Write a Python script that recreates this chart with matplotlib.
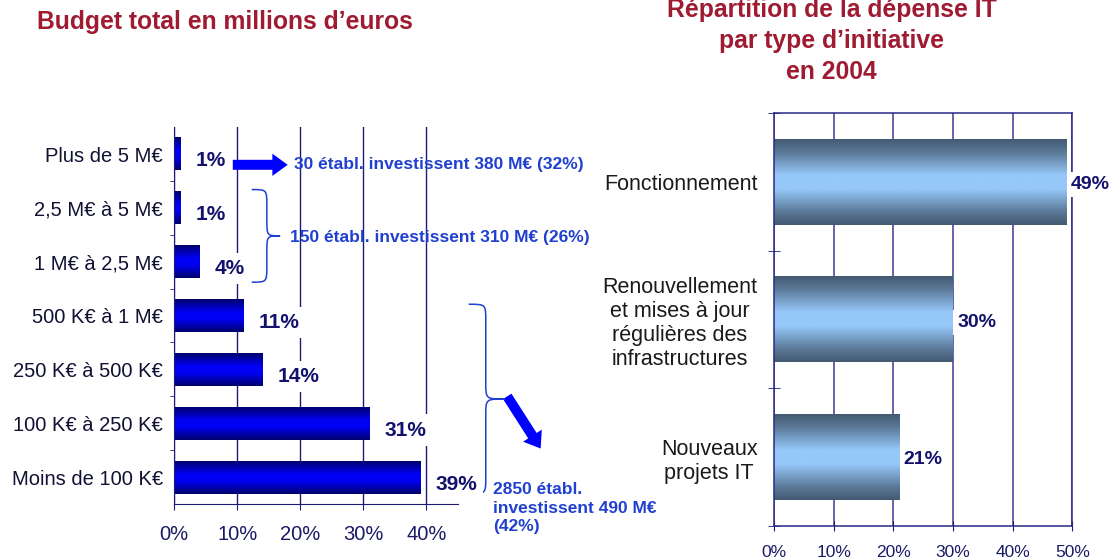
import numpy as np
import matplotlib
matplotlib.use('Agg')
import matplotlib.pyplot as plt
from matplotlib.colors import LinearSegmentedColormap
from matplotlib.path import Path
import matplotlib.patches as mpatches

plt.rcParams['font.family'] = ['Liberation Sans', 'DejaVu Sans']

# Left chart: budget total
budget_cats = ['Plus de 5 M€', '2,5 M€ à 5 M€', '1 M€ à 2,5 M€', '500 K€ à 1 M€',
               '250 K€ à 500 K€', '100 K€ à 250 K€', 'Moins de 100 K€']
budget_pct = [1, 1, 4, 11, 14, 31, 39]
budget_ticks = [0, 10, 20, 30, 40]

# Right chart: dépense IT par type d'initiative
init_cats = ['Fonctionnement',
             'Renouvellement\net mises à jour\nrégulières des\ninfrastructures',
             'Nouveaux\nprojets IT']
init_pct = [49, 30, 21]
init_ticks = [0, 10, 20, 30, 40, 50]

title_col = '#9e1b32'
navy = '#1c1c78'
label_col = '#12126e'
ann_col = '#2040d0'

blue_cmap = LinearSegmentedColormap.from_list('b', [(0, '#00006a'), (0.4, '#0000f5'),
                                                    (0.6, '#0000f5'), (1, '#00006a')])
steel_cmap = LinearSegmentedColormap.from_list('s', [(0, '#445a72'), (0.15, '#5a7896'),
                                                     (0.42, '#96c8fa'), (0.58, '#96c8fa'),
                                                     (0.85, '#5a7896'), (1, '#445a72')])


def gradient_fill(ax, bars, cmap):
    grad = np.linspace(0, 1, 256).reshape(-1, 1)
    for b in bars:
        x, y = b.get_x(), b.get_y()
        w, h = b.get_width(), b.get_height()
        ax.imshow(grad, cmap=cmap, aspect='auto', extent=(x, x + w, y + h, y),
                  zorder=2, interpolation='bilinear')


def brace(ax, x_end, x_mid, x_tip, y_top, y_bot, q):
    ym = (y_top + y_bot) / 2
    verts = [(x_end, y_top), (x_mid, y_top), (x_mid, y_top), (x_mid, y_top + q),
             (x_mid, ym - q),
             (x_mid, ym), (x_mid, ym), (x_tip, ym),
             (x_mid, ym), (x_mid, ym), (x_mid, ym + q),
             (x_mid, y_bot - q),
             (x_mid, y_bot), (x_mid, y_bot), (x_end, y_bot)]
    codes = [Path.MOVETO, Path.CURVE4, Path.CURVE4, Path.CURVE4, Path.LINETO,
             Path.CURVE4, Path.CURVE4, Path.CURVE4, Path.CURVE4, Path.CURVE4, Path.CURVE4,
             Path.LINETO, Path.CURVE4, Path.CURVE4, Path.CURVE4]
    p = mpatches.PathPatch(Path(verts, codes), fill=False, ec=ann_col, lw=1.1,
                           clip_on=False, zorder=5)
    ax.add_patch(p)


def fat_arrow(ax, start, end):
    ax.annotate('', xy=end, xytext=start, annotation_clip=False,
                arrowprops=dict(arrowstyle='simple,head_length=1.1,head_width=1.6,tail_width=0.72',
                                mutation_scale=10, fc='#0000ff', ec='none',
                                shrinkA=0, shrinkB=0))


fig = plt.figure(figsize=(11.09, 5.6), dpi=100)

# ---------------- left chart ----------------
ax1 = fig.add_axes([0.157, 0.1, 0.256, 0.673])
n1 = len(budget_cats)
bars1 = ax1.barh(range(n1), budget_pct, height=0.61, color='none', zorder=2)
gradient_fill(ax1, bars1, blue_cmap)
ax1.set_xlim(0, 45)
ax1.set_ylim(6.5, -0.5)
ax1.set_yticks(range(n1))
ax1.set_yticklabels(budget_cats, fontsize=14.5, color='#111133')
ax1.set_yticks(np.arange(0.5, n1 - 1, 1), minor=True)
ax1.tick_params(axis='y', which='major', length=0, pad=8)
ax1.tick_params(axis='y', which='minor', length=3, color=navy, direction='out')
ax1.set_xticks(budget_ticks)
ax1.set_xticklabels([f'{t}%' for t in budget_ticks])
ax1.tick_params(axis='x', length=4, direction='out', color=navy, pad=11,
                labelsize=14.5, labelcolor='#1a1a66')
ax1.grid(axis='x', color=navy, lw=1)
ax1.set_axisbelow(True)
for s in ['top', 'right']:
    ax1.spines[s].set_visible(False)
for s in ['left', 'bottom']:
    ax1.spines[s].set_color(navy)

for b, v in zip(bars1, budget_pct):
    ax1.annotate(f'{v}%', xy=(b.get_width(), b.get_y() + b.get_height() / 2),
                 xytext=(11, -5), textcoords='offset points', ha='left', va='center',
                 fontsize=15, fontweight='bold', color=label_col, zorder=6,
                 bbox=dict(boxstyle='square,pad=0.3', fc='white', ec='none'))

# annotations
fat_arrow(ax1, (9.3, 0.2), (18.0, 0.2))
ax1.text(19.0, 0.2, '30 établ. investissent 380 M€ (32%)', fontsize=12.5,
         fontweight='bold', color=ann_col, ha='left', va='center')
brace(ax1, 12.3, 14.7, 16.8, 0.66, 2.38, 0.3)
ax1.text(18.4, 1.55, '150 établ. investissent 310 M€ (26%)', fontsize=12.5,
         fontweight='bold', color=ann_col, ha='left', va='center')
brace(ax1, 46.7, 49.4, 52.4, 2.79, 6.31, 0.3)
fat_arrow(ax1, (52.8, 4.5), (58.1, 5.47))
ax1.text(50.6, 6.58, '2850 établ.\ninvestissent 490 M€\n(42%)', fontsize=12.5,
         fontweight='bold', color=ann_col, ha='left', va='center', linespacing=1.3)

fig.text(0.203, 0.961, 'Budget total en millions d’euros', fontsize=17.8,
         fontweight='bold', color=title_col, ha='center', va='center')

# ---------------- right chart ----------------
ax2 = fig.add_axes([0.698, 0.061, 0.269, 0.737])
n2 = len(init_cats)
bars2 = ax2.barh(range(n2), init_pct, height=0.62, color='none', zorder=2)
gradient_fill(ax2, bars2, steel_cmap)
ax2.set_xlim(0, 50)
ax2.set_ylim(2.5, -0.5)
ax2.set_yticks(range(n2))
ax2.set_yticklabels(init_cats, fontsize=15.5, color='#1a1a1a')
for lbl in ax2.get_yticklabels():
    lbl.set_multialignment('center')
ax2.set_yticks(np.arange(-0.5, n2 + 0.5, 1), minor=True)
ax2.tick_params(axis='y', which='major', length=0, pad=12)
ax2.tick_params(axis='y', which='minor', length=9, color=navy, direction='inout')
ax2.set_xticks(init_ticks)
ax2.set_xticklabels([f'{t}%' for t in init_ticks])
ax2.tick_params(axis='x', length=7, direction='inout', color=navy, pad=10,
                labelsize=12.5, labelcolor='#1a1a66')
ax2.grid(axis='x', color='#3a3a94', lw=1.1)
ax2.set_axisbelow(True)
for s in ax2.spines.values():
    s.set_color('#2a2a88')
    s.set_linewidth(1.1)

for b, v in zip(bars2, init_pct):
    ax2.annotate(f'{v}%', xy=(b.get_width(), b.get_y() + b.get_height() / 2),
                 xytext=(3, -2), textcoords='offset points', ha='left', va='center',
                 fontsize=14, fontweight='bold', color=label_col, zorder=6,
                 bbox=dict(boxstyle='square,pad=0.2', fc='white', ec='none'))

fig.text(0.750, 0.927, 'Répartition de la dépense IT\npar type d’initiative\nen 2004',
         fontsize=17.8, fontweight='bold', color=title_col, ha='center', va='center',
         linespacing=1.36)

fig.savefig('out.png', dpi=100)
